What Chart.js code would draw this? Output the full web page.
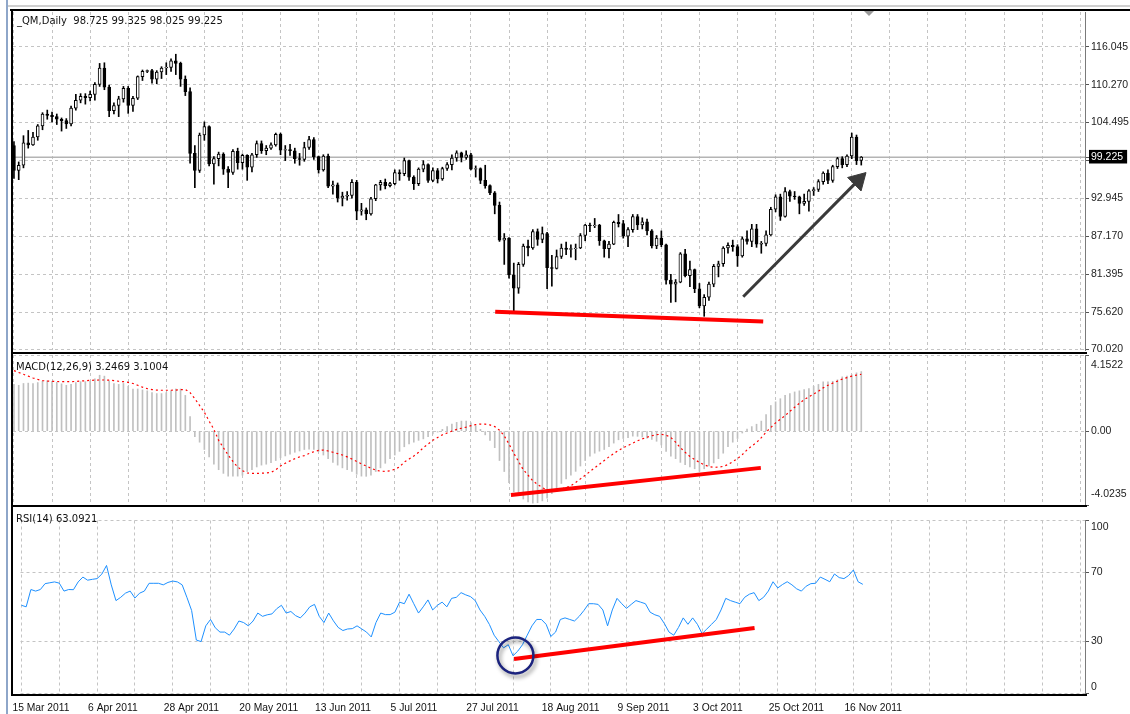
<!DOCTYPE html>
<html><head><meta charset="utf-8">
<script src="https://cdn.jsdelivr.net/npm/chart.js@4.4.1/dist/chart.umd.min.js"></script>
<style>
html,body{margin:0;padding:0;background:#fff;}
#wrap{position:relative;width:1130px;height:714px;overflow:hidden;background:#fff;}
canvas{position:absolute;left:0;}
.ln{position:absolute;}
.lbl{position:absolute;font:10px "DejaVu Sans",Verdana,sans-serif;color:#111;white-space:pre;line-height:12px;}
</style></head><body>
<div id="wrap">
<canvas id="cPrice" width="1130" height="362" style="top:0"></canvas>
<canvas id="cMacd" width="1130" height="160" style="top:350px"></canvas>
<canvas id="cRsi" width="1130" height="214" style="top:500px"></canvas>
<div class="ln" style="left:6px;top:0;width:2px;height:714px;background:#8ea6c9"></div>
<div class="ln" style="left:8px;top:5px;width:1122px;height:2px;background:#cfcfcf"></div>
<div class="ln" style="left:10px;top:9px;width:1120px;height:2px;background:#000"></div>
<div class="ln" style="left:11px;top:9px;width:2px;height:687px;background:#000"></div>
<div class="ln" style="left:11px;top:352px;width:1076px;height:2px;background:#000"></div>
<div class="ln" style="left:11px;top:505px;width:1076px;height:2px;background:#000"></div>
<div class="ln" style="left:11px;top:694px;width:1076px;height:2px;background:#000"></div>
<div class="ln" style="left:864px;top:11px;width:0;height:0;border-left:5px solid transparent;border-right:5px solid transparent;border-top:5px solid #9a9a9a"></div>
<div class="lbl" style="left:17px;top:15px">_QM,Daily  98.725 99.325 98.025 99.225</div>
<div class="lbl" style="left:16px;top:361px">MACD(12,26,9) 3.2469 3.1004</div>
<div class="lbl" style="left:16px;top:513px">RSI(14) 63.0921</div>
</div>
<script>
// ---------- data (daily bars, 15 Mar 2011 .. 18 Nov 2011) ----------
const opens = [101.0,97.2,98.0,101.4,101.1,102.3,104.0,105.8,105.6,105.4, 105.0,104.8,104.3,106.7,107.9,108.5,108.3,108.8,110.3,112.8, 109.9,106.3,107.1,108.1,109.7,107.1,108.2,111.5,112.3,112.4, 111.1,112.2,112.8,112.9,113.9,113.5,111.1,109.2,99.8,97.2, 102.6,103.9,98.2,99.0,99.7,97.4,96.9,100.1,98.4,99.5, 97.7,99.6,101.3,100.2,100.6,101.1,102.7,100.3,100.4,100.2, 99.0,98.9,100.7,101.9,99.3,97.3,99.4,94.8,95.0,93.0, 93.3,93.4,95.4,91.0,91.2,90.6,92.9,95.0,95.4,94.9, 95.2,96.9,96.7,98.7,96.2,95.2,97.4,98.1,95.7,97.2, 95.9,97.5,98.1,99.1,99.9,99.2,99.6,97.4,97.5,95.7, 94.9,93.8,91.9,86.6,86.9,81.3,79.3,82.9,85.7,85.4, 87.9,86.7,87.6,82.4,82.3,84.1,85.4,85.2,85.3,85.4, 87.3,88.9,88.8,88.9,86.5,85.3,86.0,89.3,89.1,87.2, 88.2,90.2,88.9,89.4,88.0,85.7,86.9,85.9,80.5,79.9, 80.2,84.5,81.2,82.1,79.2,76.6,77.9,79.9,82.6,83.0, 85.4,85.8,85.6,84.2,86.8,86.4,88.3,86.0,86.1,87.4, 91.3,93.2,90.2,94.0,93.3,93.2,92.2,92.5,94.1,94.3, 95.5,96.8,95.7,97.8,99.0,98.1,99.4,102.3,98.725];
const highs = [101.6,98.5,102.5,103.3,103.0,104.2,106.0,106.4,106.1,105.8, 105.2,105.1,107.0,108.8,108.9,108.9,109.3,110.6,113.5,113.6, 110.2,107.5,108.5,110.0,110.0,108.5,111.6,112.5,112.5,112.6, 112.4,113.0,113.6,114.2,114.9,113.7,111.6,109.8,101.0,102.9, 104.6,104.0,99.3,100.0,99.9,97.8,100.4,100.6,99.7,99.6, 99.8,101.7,101.7,101.0,101.4,102.9,102.9,101.0,101.2,100.6, 99.8,101.5,102.4,102.2,99.4,99.6,99.7,95.6,95.3,93.9, 94.0,95.8,95.7,92.2,91.5,93.1,95.1,95.7,95.9,95.4, 97.3,97.3,99.1,98.8,96.4,97.6,98.7,98.2,97.6,97.5, 97.7,98.4,99.6,100.2,100.0,100.2,99.8,97.9,97.6,98.0, 95.0,94.0,92.4,87.6,87.0,83.1,83.2,86.0,86.6,88.2, 88.3,88.6,87.8,84.3,85.1,86.0,86.3,85.9,86.0,87.6, 89.0,89.2,89.9,89.0,86.6,86.4,89.5,90.5,89.6,88.5, 90.5,90.5,90.0,89.8,88.2,87.3,88.0,86.0,81.4,80.6, 84.7,85.2,83.4,82.2,80.0,78.3,80.2,82.9,83.4,85.6, 86.2,86.6,85.9,87.1,88.0,89.0,89.0,86.4,88.0,91.6, 93.5,93.6,94.6,94.2,94.0,93.3,93.6,94.3,94.6,95.8, 97.0,97.3,98.0,99.2,99.3,99.6,102.9,102.6,99.325];
const lows = [96.0,95.8,97.6,100.6,101.0,101.8,103.4,105.0,104.6,104.2, 103.2,103.6,104.0,106.4,107.5,107.3,107.8,107.9,110.0,109.5, 105.4,105.8,105.4,107.6,105.9,106.2,108.0,110.9,112.1,110.5, 110.4,111.2,111.8,112.3,111.8,110.0,108.6,98.3,94.6,96.9, 101.8,97.9,95.1,97.9,96.6,94.6,96.6,97.4,97.4,95.7, 97.0,99.2,99.8,99.6,100.4,100.9,99.6,98.7,99.5,98.3, 98.0,98.6,100.4,98.9,96.8,97.1,94.6,93.6,92.4,91.8, 92.7,93.0,89.7,90.4,89.7,90.4,92.6,94.2,94.4,94.7, 95.0,95.7,96.4,95.7,94.3,94.9,97.0,95.4,95.5,95.3, 95.7,97.2,97.3,98.6,98.5,98.9,97.3,96.2,95.2,94.5, 93.5,90.6,86.4,82.9,80.8,75.7,78.5,82.6,84.2,85.2, 85.8,86.2,79.2,79.6,82.2,83.8,84.4,84.0,83.6,85.3, 86.5,87.9,88.5,85.8,84.0,83.9,85.9,88.6,86.9,85.6, 87.8,88.2,88.3,87.4,85.4,85.3,85.6,79.9,77.1,77.2, 80.1,81.0,79.5,78.6,76.3,75.0,77.4,79.5,81.0,82.6, 84.6,84.9,82.6,84.0,86.0,85.6,85.5,84.6,85.7,87.3, 90.9,89.6,90.1,92.5,92.8,90.6,91.9,91.0,93.4,94.0, 95.1,95.2,95.4,97.5,97.6,97.8,99.0,98.1,98.025];
const closes = [97.2,98.0,101.4,101.1,102.3,104.0,105.8,105.6,105.4,105.0, 104.8,104.3,106.7,107.9,108.5,108.3,108.8,110.3,112.8,109.9, 106.3,107.1,108.1,109.7,107.1,108.2,111.5,112.3,112.4,111.1, 112.2,112.8,112.9,113.9,113.5,111.1,109.2,99.8,97.2,102.6, 103.9,98.2,99.0,99.7,97.4,96.9,100.1,98.4,99.5,97.7, 99.6,101.3,100.2,100.6,101.1,102.7,100.3,100.4,100.2,99.0, 98.9,100.7,101.9,99.3,97.3,99.4,94.8,95.0,93.0,93.3, 93.4,95.4,91.0,91.2,90.6,92.9,95.0,95.4,94.9,95.2, 96.9,96.7,98.7,96.2,95.2,97.4,98.1,95.7,97.2,95.9, 97.5,98.1,99.1,99.9,99.2,99.6,97.4,97.5,95.7,94.9, 93.8,91.9,86.6,86.9,81.3,79.3,82.9,85.7,85.4,87.9, 86.7,87.6,82.4,82.3,84.1,85.4,85.2,85.3,85.4,87.3, 88.9,88.8,88.9,86.5,85.3,86.0,89.3,89.1,87.2,88.2, 90.2,88.9,89.4,88.0,85.7,86.9,85.9,80.5,79.9,80.2, 84.5,81.2,82.1,79.2,76.6,77.9,79.9,82.6,83.0,85.4, 85.8,85.6,84.2,86.8,86.4,88.3,86.0,86.1,87.4,91.3, 93.2,90.2,94.0,93.3,93.2,92.2,92.5,94.1,94.3,95.5, 96.8,95.7,97.8,99.0,98.1,99.4,102.3,98.7,99.225];
const macdMain = [2.55,2.5,2.6,2.62,2.6,2.65,2.72,2.75,2.72,2.66, 2.58,2.5,2.55,2.65,2.7,2.7,2.72,2.85,3.05,3.0, 2.75,2.6,2.55,2.6,2.45,2.3,2.3,2.25,2.2,2.1, 2.05,2.05,2.1,2.2,2.3,2.3,1.95,0.8,-0.3,-0.6, -1.0,-1.4,-1.8,-2.1,-2.3,-2.45,-2.45,-2.45,-2.4,-2.2, -2.1,-1.95,-1.85,-1.8,-1.72,-1.6,-1.45,-1.35,-1.25,-1.15, -1.08,-1.0,-0.98,-1.0,-1.1,-1.3,-1.5,-1.7,-1.85,-2.0, -2.1,-2.2,-2.35,-2.45,-2.46,-2.4,-2.2,-2.0,-1.75,-1.5, -1.3,-1.1,-0.85,-0.7,-0.6,-0.5,-0.42,-0.3,-0.15,-0.05, 0.1,0.25,0.39,0.48,0.55,0.55,0.45,0.3,0.1,-0.2, -0.5,-0.9,-1.6,-2.2,-2.8,-3.3,-3.5,-3.7,-3.85,-3.92, -3.9,-3.8,-3.65,-3.4,-3.1,-2.85,-2.6,-2.4,-2.19,-1.9, -1.6,-1.36,-1.2,-1.09,-1.0,-0.85,-0.65,-0.47,-0.4,-0.35, -0.27,-0.28,-0.32,-0.38,-0.45,-0.55,-0.75,-1.1,-1.36,-1.5, -1.7,-1.82,-1.95,-2.05,-2.19,-2.05,-1.9,-1.73,-1.5,-1.2, -0.85,-0.6,-0.4,-0.1,0.12,0.25,0.38,0.55,0.9,1.4, 1.6,1.77,1.95,2.05,2.14,2.2,2.27,2.32,2.45,2.55, 2.69,2.69,2.72,2.8,2.96,3.0,3.08,3.18,3.25];
const macdSignal = [3.3,3.2,3.1,3.0,2.9,2.82,2.76,2.73,2.72,2.71, 2.7,2.7,2.7,2.71,2.73,2.75,2.77,2.78,2.79,2.79, 2.78,2.76,2.72,2.7,2.66,2.6,2.5,2.4,2.32,2.27, 2.24,2.23,2.23,2.23,2.24,2.26,2.28,2.1,1.77,1.4, 1.03,0.55,0.1,-0.5,-0.9,-1.3,-1.65,-1.95,-2.15,-2.28, -2.3,-2.3,-2.29,-2.28,-2.25,-2.1,-1.9,-1.75,-1.62,-1.5, -1.4,-1.33,-1.22,-1.12,-1.05,-1.03,-1.08,-1.15,-1.22,-1.3, -1.4,-1.52,-1.65,-1.78,-1.9,-2.02,-2.12,-2.18,-2.19,-2.16, -2.08,-1.95,-1.68,-1.52,-1.35,-1.15,-0.9,-0.7,-0.5,-0.35, -0.2,-0.1,0.0,0.1,0.16,0.22,0.3,0.36,0.39,0.38, 0.34,0.25,0.05,-0.26,-0.7,-1.2,-1.65,-2.1,-2.4,-2.7, -2.9,-3.08,-3.2,-3.25,-3.22,-3.15,-3.07,-2.97,-2.8,-2.6, -2.4,-2.2,-2.0,-1.8,-1.6,-1.4,-1.22,-1.05,-0.9,-0.78, -0.65,-0.52,-0.42,-0.33,-0.25,-0.19,-0.17,-0.22,-0.34,-0.6, -0.9,-1.15,-1.38,-1.55,-1.7,-1.83,-1.93,-1.97,-1.96,-1.92, -1.82,-1.66,-1.5,-1.28,-1.02,-0.8,-0.62,-0.35,-0.05,0.2, 0.45,0.65,0.85,1.08,1.3,1.52,1.72,1.88,2.03,2.18, 2.36,2.5,2.62,2.73,2.84,2.92,3.0,3.06,3.1];
const rsi = [51.0,50.1,60.1,59.2,60.1,63.5,64.0,64.5,63.8,59.2, 60.1,60.0,64.5,67.3,65.5,66.0,66.4,69.0,74.0,62.8, 53.7,55.6,58.0,59.2,55.2,58.0,59.2,63.7,63.7,63.7, 62.8,64.2,65.0,64.5,62.8,55.6,48.0,30.9,30.0,39.1, 42.8,38.0,35.5,35.5,33.7,37.3,41.9,41.0,39.1,41.9, 46.5,44.6,45.5,46.0,49.0,51.0,46.5,47.4,45.0,43.7, 46.5,50.1,51.5,44.6,41.0,46.5,42.0,38.2,36.4,37.3, 37.5,39.1,37.3,35.5,32.7,41.0,46.5,45.6,45.6,47.0, 52.8,51.9,57.4,51.9,46.5,50.1,54.1,48.3,51.0,52.8, 50.1,55.0,55.6,58.3,57.0,56.0,53.7,48.3,44.6,39.9, 33.7,30.0,26.4,28.2,21.8,24.5,28.2,33.7,39.1,42.8, 42.8,40.0,33.0,35.5,42.8,43.7,42.8,41.9,44.6,48.0, 51.9,51.9,51.5,48.3,39.1,48.3,55.0,51.9,49.2,51.5, 53.7,52.8,51.9,47.0,45.5,44.6,40.5,35.5,33.7,38.2, 43.7,40.0,43.7,40.0,34.6,37.3,40.0,42.8,48.3,55.0, 53.7,52.8,51.9,55.6,57.4,58.3,53.7,55.6,59.2,64.6, 61.0,63.0,64.6,62.8,60.5,59.2,62.0,63.5,63.7,67.3, 66.0,64.6,69.1,67.0,66.4,68.2,71.4,64.6,63.1];

const lastClose = 99.225;
const dateLabels = ['15 Mar 2011','6 Apr 2011','28 Apr 2011','20 May 2011','13 Jun 2011','5 Jul 2011','27 Jul 2011','18 Aug 2011','9 Sep 2011','3 Oct 2011','25 Oct 2011','16 Nov 2011'];
const priceTicks = [116.045,110.270,104.495,98.720,92.945,87.170,81.395,75.620,70.020,lastClose];
const priceTickLabels = ['116.045','110.270','104.495','','92.945','87.170','81.395','75.620','70.020','99.225'];
const macdTicks = [4.1522,0,-4.0235];
const macdTickLabels = [['','4.1522'],'0.00',['-4.0235','']];
const rsiTicks = [100,70,30,0];
const rsiTickLabels = [['','100'],'70','30',['0','']];

// hand-drawn annotations, in data coordinates (bar index, value)
const priceSupport = [{x:101.1,y:75.71},{x:157.4,y:74.20}];
const priceArrow = [{x:153.2,y:77.97},{x:177.36,y:95.7}];
const macdTrend = [{x:104.4,y:-3.48},{x:156.9,y:-2.0}];
const rsiTrend = [{x:104.2,y:20.0},{x:155.1,y:37.8}];
const rsiCircle = [{x:104.5,y:22.0}];

// ---------- styling / layout ----------
const FONT = '"Liberation Sans", Arial, sans-serif';
const GRID = '#c4c4c4';
const ARROW = '#3a3a3a';
const X_MIN = -0.2, X_MAX = 225;
const BAR_STEP = 8;
const gridBars = [];
for (let b = 0; b <= 224; b += BAR_STEP) gridBars.push(b);
const bars = closes.map((_, i) => i);

Chart.defaults.font.family = FONT;

function xAxis(h, showLabels) {
  return {
    type: 'linear', min: X_MIN, max: X_MAX, bounds: 'data', offset: false,
    afterBuildTicks: s => { s.ticks = gridBars.map(v => ({value: v})); },
    afterFit: s => { s.height = h; s.paddingLeft = 0; s.paddingRight = 0; },
    grid: { color: GRID, lineWidth: 1, drawTicks: false, offset: false },
    border: { display: false, dash: [3, 3] },
    ticks: showLabels ? {
      display: true, autoSkip: false, maxRotation: 0, minRotation: 0, align: 'start',
      padding: 8, labelOffset: -9, color: '#111', font: {family: FONT, size: 10.3},
      callback: v => (v % 16 === 0 && dateLabels[v / 16]) ? dateLabels[v / 16] : ''
    } : { display: false }
  };
}
function yAxis(min, max, values, labels, lineHeight, isPrice) {
  return {
    type: 'linear', position: 'right', min, max, bounds: 'data',
    afterBuildTicks: s => { s.ticks = values.map(v => ({value: v})); },
    afterFit: s => { s.width = 45; s.paddingTop = 0; s.paddingBottom = 0; },
    grid: {
      color: ctx => (isPrice && ctx.tick && ctx.tick.value === lastClose) ? 'rgba(0,0,0,0)' : GRID,
      lineWidth: 1, drawTicks: true, tickLength: 4, tickColor: '#555', tickWidth: 1
    },
    border: { display: true, color: '#7a7a7a', width: 1, dash: [3, 3] },
    ticks: {
      autoSkip: false, padding: 2,
      color: ctx => (isPrice && ctx.tick && ctx.tick.value === lastClose) ? '#fff' : '#222',
      font: {family: FONT, size: 10.5, lineHeight},
      showLabelBackdrop: ctx => !!(isPrice && ctx.tick && ctx.tick.value === lastClose),
      backdropColor: '#000',
      backdropPadding: {left: 2, right: 4, top: 1, bottom: 0},
      callback: (v, i) => labels[i]
    }
  };
}
const common = {
  responsive: false, animation: false, devicePixelRatio: 1, events: [],
  plugins: { legend: {display: false}, tooltip: {enabled: false} }
};

const shadowPlugin = {
  id: 'circleShadow',
  beforeDatasetDraw(chart, args) {
    if (chart.data.datasets[args.index].shadow) {
      const c = chart.ctx; c.save();
      c.shadowColor = 'rgba(0,0,0,0.45)'; c.shadowBlur = 4; c.shadowOffsetX = 2; c.shadowOffsetY = 3;
    }
  },
  afterDatasetDraw(chart, args) {
    if (chart.data.datasets[args.index].shadow) chart.ctx.restore();
  }
};

// ---------- price panel ----------
new Chart(document.getElementById('cPrice'), {
  type: 'bar',
  data: { datasets: [
    { type: 'line', data: [{x: X_MIN, y: lastClose}, {x: X_MAX, y: lastClose}], borderColor: '#b4b4b4', borderWidth: 1.5, pointRadius: 0, order: 5 },
    { type: 'bar', data: bars.map(i => ({x: i, y: [lows[i], highs[i]]})), backgroundColor: '#000', barThickness: 1, grouped: false, order: 3 },
    { type: 'bar', data: bars.map(i => ({x: i, y: [opens[i], closes[i]]})),
      backgroundColor: bars.map(i => closes[i] >= opens[i] ? '#fff' : '#000'),
      borderColor: '#000', borderWidth: 1, borderSkipped: false, barThickness: 3, grouped: false, order: 2 },
    { type: 'line', data: priceSupport, borderColor: '#ff0000', borderWidth: 4, pointRadius: 0, order: 1 },
    { type: 'line', data: priceArrow, borderColor: ARROW, borderWidth: 3, pointRadius: [0, 11],
      pointStyle: 'triangle', pointRotation: 45, pointBackgroundColor: ARROW, pointBorderColor: ARROW, pointBorderWidth: 1, order: 0 }
  ]},
  options: Object.assign({}, common, {
    layout: { padding: {left: 13, top: 11, right: 0, bottom: 0} },
    scales: { x: xAxis(10, false), y: yAxis(69.87, 121.33, priceTicks, priceTickLabels, 1.2, true) }
  })
});

// ---------- MACD panel ----------
new Chart(document.getElementById('cMacd'), {
  type: 'bar',
  data: { datasets: [
    { type: 'bar', data: bars.map(i => ({x: i, y: macdMain[i]})), backgroundColor: '#c0c0c0', barThickness: 1, grouped: false, order: 3 },
    { type: 'line', data: bars.map(i => ({x: i, y: macdSignal[i]})), borderColor: '#ff0000', borderWidth: 1.2, borderDash: [2, 3], pointRadius: 0, order: 2 },
    { type: 'line', data: macdTrend, borderColor: '#ff0000', borderWidth: 4, pointRadius: 0, order: 1 }
  ]},
  options: Object.assign({}, common, {
    layout: { padding: {left: 13, top: 5, right: 0, bottom: 0} },
    scales: { x: xAxis(5, false), y: yAxis(-4.0235, 4.1522, macdTicks, macdTickLabels, 2, false) }
  })
});

// ---------- RSI panel ----------
new Chart(document.getElementById('cRsi'), {
  type: 'line',
  data: { datasets: [
    { type: 'line', data: bars.map(i => ({x: i, y: rsi[i]})), borderColor: '#1e90ff', borderWidth: 1, pointRadius: 0, order: 3 },
    { type: 'line', data: rsiTrend, borderColor: '#ff0000', borderWidth: 4, pointRadius: 0, order: 2 },
    { type: 'line', data: rsiCircle, showLine: false, shadow: true, pointRadius: 18, pointStyle: 'circle',
      pointBackgroundColor: 'rgba(0,0,0,0)', pointBorderColor: '#1b237e', pointBorderWidth: 2.5, order: 1 }
  ]},
  options: Object.assign({}, common, {
    layout: { padding: {left: 13, top: 9, right: 0, bottom: 0} },
    scales: { x: xAxis(20, true), y: yAxis(0, 100, rsiTicks, rsiTickLabels, 1.2, false) }
  }),
  plugins: [shadowPlugin]
});
</script>
</body></html>
